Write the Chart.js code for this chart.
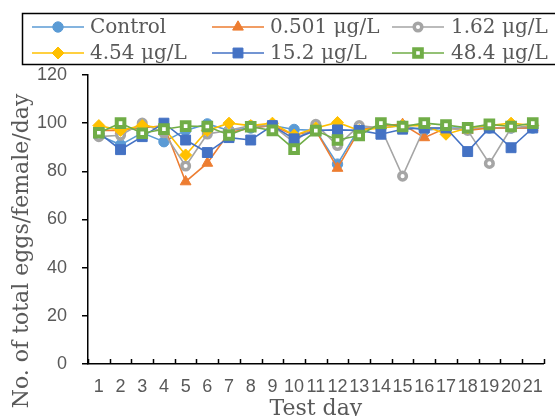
<!DOCTYPE html>
<html>
<head>
<meta charset="utf-8">
<script src="https://cdn.jsdelivr.net/npm/chart.js@4/dist/chart.umd.min.js"></script>
<style>
  html, body { margin: 0; padding: 0; background: #fff; }
  #wrap { width: 555px; height: 416px; }
</style>
</head>
<body>
<div id="wrap"><canvas id="c" width="555" height="416"></canvas></div>
<script>
const days = ['1','2','3','4','5','6','7','8','9','10','11','12','13','14','15','16','17','18','19','20','21'];
const seriesNames = ['Control', '0.501 μg/L', '1.62 μg/L', '4.54 μg/L', '15.2 μg/L', '48.4 μg/L'];
const control = [95, 91, 96, 92.3, 97, 99.7, 97, 98, 99, 97.4, 97, 83, 98, 98, 99, 97, 98, 98, 98, 98, 98];
const c0501   = [97, 97, 98, 99, 75.7, 83.4, 96, 98, 99, 95, 97, 81.3, 97, 99, 99.5, 94, 98, 97, 98, 98, 98];
const c162    = [94.4, 95, 100, 96, 82.2, 95.5, 97, 99, 99, 92, 99.5, 90.7, 99, 98, 78, 98, 98, 97, 83.3, 98, 99];
const c454    = [99, 97, 99, 98, 86.8, 97, 100, 99, 100, 95, 98, 100.3, 97, 98, 99, 99, 95.4, 98, 99, 100, 99];
const c152    = [96, 89, 94.4, 100, 93, 87.8, 94, 93, 99, 93.5, 97, 97.2, 97, 95.4, 97.5, 98, 98, 88.2, 98, 89.8, 98];
const c484    = [96, 100, 95.8, 97.5, 98.8, 98.6, 95.1, 98.5, 97, 89.2, 96.9, 93, 94.9, 100, 98.6, 100, 99.2, 98.1, 99.5, 98.6, 100];
const yTicks = [0, 20, 40, 60, 80, 100, 120];
const yTitle = 'No. of total eggs/female/day';
const xTitle = 'Test day';

const styles = [
  { color: '#5B9BD5', pointStyle: 'circle',   radius: 5.2, bg: '#5B9BD5', bw: 1 },
  { color: '#ED7D31', pointStyle: 'triangle', radius: 6.2, bg: '#ED7D31', bw: 1 },
  { color: '#A5A5A5', pointStyle: 'circle',   radius: 3.8, bg: '#FFFFFF', bw: 3.5 },
  { color: '#FFC000', pointStyle: 'rectRot',  radius: 6,   bg: '#FFC000', bw: 1 },
  { color: '#4472C4', pointStyle: 'rect',     radius: 7,   bg: '#4472C4', bw: 1 },
  { color: '#70AD47', pointStyle: 'rect',     radius: 5.4, bg: '#FFFFFF', bw: 4 }
];
const seriesData = [control, c0501, c162, c454, c152, c484];

const datasets = seriesData.map((d, i) => ({
  label: seriesNames[i],
  data: d,
  borderColor: styles[i].color,
  borderWidth: 1.6,
  backgroundColor: styles[i].bg,
  pointStyle: styles[i].pointStyle,
  pointRadius: styles[i].radius,
  pointHoverRadius: styles[i].radius,
  pointBackgroundColor: styles[i].bg,
  pointBorderColor: styles[i].color,
  pointBorderWidth: styles[i].bw,
  tension: 0,
  fill: false,
  clip: false,
  order: seriesData.length - 1 - i
}));

const SERIF = '"DejaVu Serif", serif';
const SANS = '"Liberation Sans", Arial, sans-serif';
const GREY = '#595959';

function drawMarker(ctx, st, x, y) {
  const r = st.radius;
  ctx.save();
  ctx.fillStyle = st.bg;
  ctx.strokeStyle = st.color;
  ctx.lineWidth = st.bw;
  ctx.beginPath();
  if (st.pointStyle === 'circle') {
    ctx.arc(x, y, r, 0, Math.PI * 2);
  } else if (st.pointStyle === 'triangle') {
    const a = -Math.PI / 2;
    ctx.moveTo(x + Math.cos(a) * r, y + Math.sin(a) * r);
    ctx.lineTo(x + Math.cos(a + 2 * Math.PI / 3) * r, y + Math.sin(a + 2 * Math.PI / 3) * r);
    ctx.lineTo(x + Math.cos(a + 4 * Math.PI / 3) * r, y + Math.sin(a + 4 * Math.PI / 3) * r);
    ctx.closePath();
  } else if (st.pointStyle === 'rectRot') {
    ctx.moveTo(x, y - r); ctx.lineTo(x + r, y); ctx.lineTo(x, y + r); ctx.lineTo(x - r, y); ctx.closePath();
  } else {
    const s = Math.SQRT1_2 * r;
    ctx.rect(x - s, y - s, 2 * s, 2 * s);
  }
  ctx.fill();
  if (st.bw > 0) ctx.stroke();
  ctx.restore();
}

const decorPlugin = {
  id: 'decor',
  afterDraw(chart) {
    const ctx = chart.ctx;
    const xs = chart.scales.x;
    const ys = chart.scales.y;
    // upward x tick marks at category boundaries
    ctx.save();
    ctx.strokeStyle = '#000';
    ctx.lineWidth = 1.5;
    const n = days.length;
    for (let i = 0; i <= n; i++) {
      const px = Math.round(xs.left + (xs.right - xs.left) * i / n) + 0.5;
      ctx.beginPath();
      ctx.moveTo(px, ys.bottom);
      ctx.lineTo(px, ys.bottom - 5);
      ctx.stroke();
    }
    ctx.restore();

    // legend
    ctx.save();
    ctx.strokeStyle = '#000';
    ctx.lineWidth = 1.5;
    ctx.strokeRect(22.5, 13.5, 540, 51);
    const cols = [{ l0: 32, l1: 84, t: 90 }, { l0: 212, l1: 264, t: 270 }, { l0: 392, l1: 444, t: 451 }];
    const rows = [27, 53];
    for (let i = 0; i < seriesNames.length; i++) {
      const c = cols[i % 3];
      const y = rows[Math.floor(i / 3)];
      ctx.strokeStyle = styles[i].color;
      ctx.lineWidth = 1.5;
      ctx.beginPath();
      ctx.moveTo(c.l0, y);
      ctx.lineTo(c.l1, y);
      ctx.stroke();
      drawMarker(ctx, styles[i], (c.l0 + c.l1) / 2, y);
      ctx.fillStyle = GREY;
      ctx.font = '20px ' + SERIF;
      ctx.textAlign = 'left';
      ctx.textBaseline = 'middle';
      ctx.fillText(seriesNames[i], c.t, y + 1);
    }
    ctx.restore();

    // axis titles
    ctx.save();
    ctx.fillStyle = GREY;
    ctx.font = '22px ' + SERIF;
    ctx.textAlign = 'center';
    ctx.textBaseline = 'alphabetic';
    ctx.fillText(xTitle, (xs.left + xs.right) / 2, 415);
    ctx.translate(28, 251);
    ctx.rotate(-Math.PI / 2);
    ctx.fillText(yTitle, 0, 0);
    ctx.restore();
  }
};

new Chart(document.getElementById('c'), {
  type: 'line',
  data: { labels: days, datasets: datasets },
  options: {
    responsive: false,
    animation: false,
    events: [],
    layout: { padding: { left: 0, right: 8, top: 75, bottom: 0 } },
    plugins: { legend: { display: false }, tooltip: { enabled: false }, title: { display: false } },
    scales: {
      x: {
        type: 'category',
        offset: true,
        grid: { display: true, drawOnChartArea: false, drawTicks: false, offset: true },
        border: { display: true, color: '#000', width: 1.5 },
        ticks: {
          autoSkip: false, maxRotation: 0, minRotation: 0,
          color: GREY, font: { family: SANS, size: 18 }, padding: 12
        },
        afterFit(s) { s.height = 52; }
      },
      y: {
        min: 0, max: 120,
        afterBuildTicks(s) { s.ticks = yTicks.map(v => ({ value: v })); },
        grid: { display: true, drawOnChartArea: false, drawTicks: true, tickLength: 6, color: '#000', lineWidth: 1.5 },
        border: { display: true, color: '#000', width: 1.5 },
        ticks: { color: GREY, font: { family: SANS, size: 18 }, padding: 15 },
        afterFit(s) { s.width = 88; }
      }
    }
  },
  plugins: [decorPlugin]
});
</script>
</body>
</html>
